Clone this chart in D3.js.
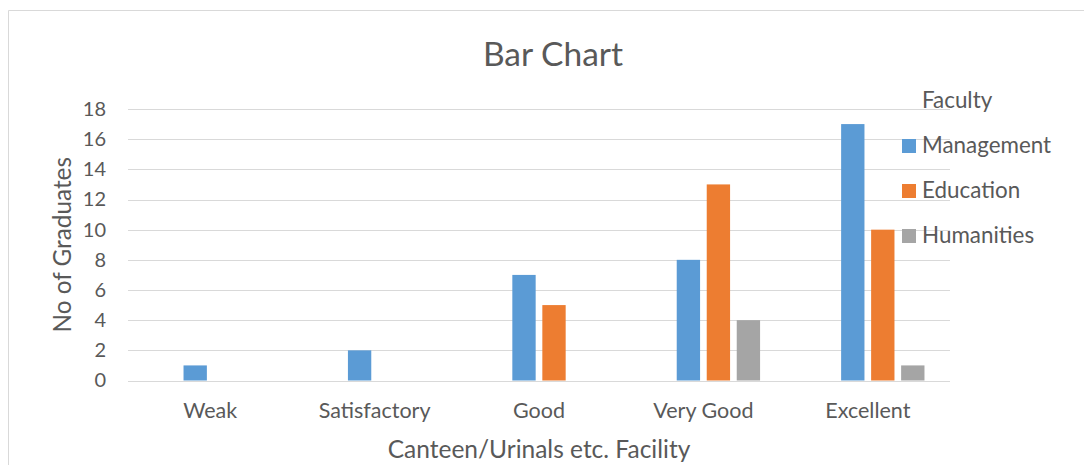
<!DOCTYPE html>
<html>
<head>
<meta charset="utf-8">
<script src="https://cdn.jsdelivr.net/npm/d3@7"></script>
<style>
  html, body { margin: 0; padding: 0; background: #fff; }
  svg { display: block; }
  text { font-family: Lato, "Open Sans", sans-serif; fill: #595959; }
</style>
</head>
<body>
<svg id="chart" width="1084" height="465"></svg>
<script>
// Ratings of the canteen / urinals facility, counted per faculty
const categories = ["Weak", "Satisfactory", "Good", "Very Good", "Excellent"];
const seriesNames = ["Management", "Education", "Humanities"];
const management = [1, 2, 7, 8, 17];
const education = [null, null, 5, 13, 10];
const humanities = [null, null, null, 4, 1];
const yTicks = [0, 2, 4, 6, 8, 10, 12, 14, 16, 18];
const colors = ["#5B9BD5", "#ED7D31", "#A5A5A5"];

// The first slot belongs to the empty "Faculty" header series, which takes
// room in each group but draws no bar.
const slots = ["Faculty", ...seriesNames];
const seriesValues = { Management: management, Education: education, Humanities: humanities };

const svg = d3.select("#chart");

// chart frame
svg.append("path")
  .attr("d", "M8.5,465V10.5H1084")
  .attr("fill", "none").attr("stroke", "#D9D9D9").attr("stroke-width", 1);

const plot = { left: 128, right: 950, top: 109, bottom: 380.5 };

const y = d3.scaleLinear().domain([0, 18]).range([plot.bottom, plot.top]);
const x0 = d3.scaleBand().domain(categories).range([plot.left, plot.right])
  .paddingInner(0.27).paddingOuter(0.135);
const x1 = d3.scaleBand().domain(slots).range([0, x0.bandwidth()])
  .paddingInner(0.222).paddingOuter(0.111);

// gridlines
svg.append("g").selectAll("line").data(yTicks).join("line")
  .attr("x1", plot.left).attr("x2", plot.right)
  .attr("y1", d => Math.round(y(d)) + 0.5).attr("y2", d => Math.round(y(d)) + 0.5)
  .attr("stroke", "#D9D9D9").attr("stroke-width", 1.2);

// y tick labels
const yAxis = d3.axisLeft(y).tickValues(yTicks).tickSize(0).tickPadding(0);
const yg = svg.append("g").attr("transform", `translate(${106},0)`).call(yAxis);
yg.select(".domain").remove();
yg.selectAll("text").attr("font-size", 20).attr("font-family", "Lato").attr("fill", "#595959");

// x category labels
const xAxis = d3.axisBottom(x0).tickSize(0).tickPadding(0);
const xg = svg.append("g").attr("transform", `translate(0,${403})`).call(xAxis);
xg.select(".domain").remove();
xg.selectAll("text").attr("font-size", 21.5).attr("font-family", "Lato").attr("fill", "#595959");

// bars
const groups = svg.append("g").selectAll("g").data(categories).join("g")
  .attr("transform", d => `translate(${x0(d)},0)`);
groups.selectAll("rect")
  .data((c, i) => seriesNames.map((s, k) => ({ s, k, v: seriesValues[s][i] })).filter(d => d.v != null))
  .join("rect")
  .attr("x", d => x1(d.s))
  .attr("width", x1.bandwidth())
  .attr("y", d => y(d.v))
  .attr("height", d => y(0) - y(d.v))
  .attr("fill", d => colors[d.k]);

// title
svg.append("text").attr("x", 553).attr("y", 66)
  .attr("text-anchor", "middle").attr("font-size", 33.5).text("Bar Chart");

// axis titles
svg.append("text").attr("x", (plot.left + plot.right) / 2).attr("y", 458)
  .attr("text-anchor", "middle").attr("font-size", 24.5).text("Canteen/Urinals etc. Facility");
svg.append("text")
  .attr("transform", `translate(71,${(plot.top + plot.bottom) / 2}) rotate(-90)`)
  .attr("text-anchor", "middle").attr("font-size", 24.3).text("No of Graduates");

// legend
const legend = svg.append("g").attr("transform", "translate(902,0)");
legend.append("text").attr("x", 20).attr("y", 108).attr("font-size", 22.4).text("Faculty");
seriesNames.forEach((s, k) => {
  const ly = 153 + k * 45;
  legend.append("rect").attr("x", 0).attr("y", ly - 14).attr("width", 14).attr("height", 14).attr("fill", colors[k]);
  legend.append("text").attr("x", 20).attr("y", ly).attr("font-size", 22.4).text(s);
});
</script>
</body>
</html>
